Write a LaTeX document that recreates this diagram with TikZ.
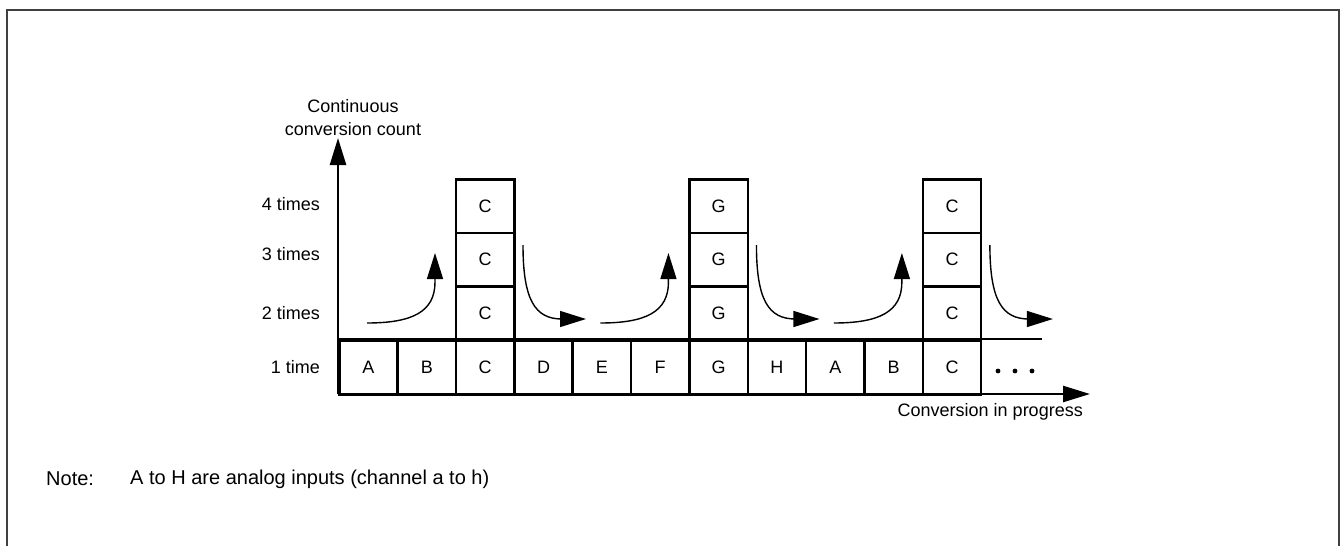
\documentclass[tikz,border=0pt]{standalone}
\usepackage{fontspec}
\setmainfont{Liberation Sans}
\usetikzlibrary{arrows.meta}
\begin{document}
\begin{tikzpicture}[x=1pt,y=-1pt,
  every node/.style={font=\fontsize{18}{22}\selectfont, inner sep=0pt},
  cell/.style={draw, line width=2.5pt, minimum width=58.36pt, minimum height=54.5pt, anchor=north west},
  stk/.style={draw, line width=2.5pt, minimum width=58.36pt, minimum height=53.67pt, anchor=north west},
  axis/.style={line width=2.5pt, -{Triangle[length=27pt,width=16pt]}},
  flow/.style={line width=1.4pt, -{Triangle[length=26pt,width=16pt]}},
  frame/.style={line width=2pt, draw=black!75},
  notefont/.style={font=\fontsize{20}{24}\selectfont}
]
\useasboundingbox (0,0) rectangle (1341,546);
\draw[frame] (7,546) -- (7,10) -- (1339,10) -- (1339,546);

% bottom row
\foreach \l [count=\i from 0] in {A,B,C,D,E,F,G,H,A,B,C} {
  \node[cell] (r\i) at ({338+58.36*\i},339) {};
  \node (t\i) at (r\i.center) {\l};
}
% stacks
\foreach \c/\l in {2/C,6/G,10/C} {
  \foreach \j in {0,1,2} {
    \node[stk] (s\c-\j) at ({338+58.36*\c},{178+53.67*\j}) {};
    \node (u\c-\j) at (s\c-\j.center) {\l};
  }
}
% axes
\coordinate (o) at (338,394);
\coordinate (ytip) at (338,138);
\coordinate (xtip) at (1090,394);
\coordinate (rowend) at (1042,339);
\draw[axis] (o) -- (ytip);
\draw[axis] (o) -- (xtip);
\draw[line width=2.5pt] (338,339) -- (rowend);

% labels
\node[align=center, font=\fontsize{18}{23}\selectfont] (ylab) at (353,118) {Continuous\\conversion count};
\node[anchor=east] (l4) at (320,204) {4 times};
\node[anchor=east] (l3) at (320,254) {3 times};
\node[anchor=east] (l2) at (320,313) {2 times};
\node[anchor=east] (l1) at (320,367) {1 time};
\node[anchor=east] (xlab) at (1083,412) {Conversion in progress};
\node[anchor=west, notefont] (note) at (46,479) {Note:};
\node[anchor=west, notefont] (notetxt) at (130,479) {A to H are analog inputs (channel a to h)};

% dots
\foreach \x in {998,1015,1032} \fill (\x,371) circle (2.4);

% flow arrows
\foreach \k in {0,1,2} {
  \pgfmathsetmacro{\dx}{233.44*\k}
  \draw[flow] (367+\dx,323) .. controls (412+\dx,323) and (435+\dx,312) .. (435+\dx,282) -- (435+\dx,253);
  \draw[flow] (523+\dx,245) .. controls (523+\dx,300) and (535+\dx,319) .. (562+\dx,319) -- (586+\dx,319);
}
\end{tikzpicture}
\end{document}
